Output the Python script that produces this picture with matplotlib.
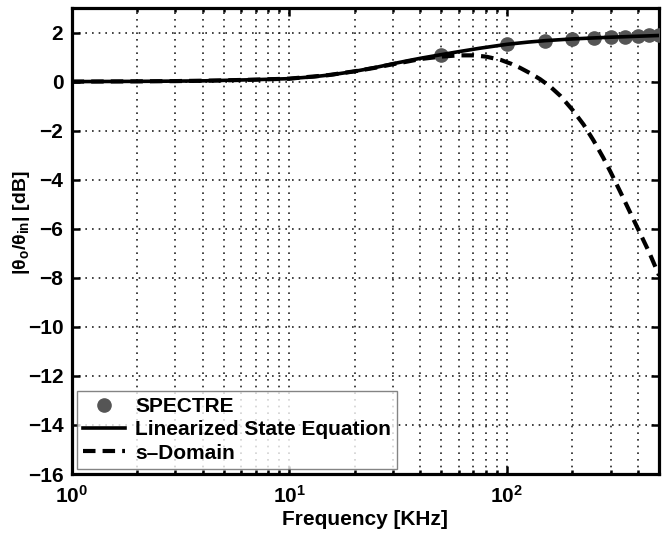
import matplotlib
matplotlib.use("Agg")
import matplotlib.pyplot as plt
import numpy as np

plt.rcParams["font.family"] = ["Liberation Sans", "DejaVu Sans"]
plt.rcParams["font.weight"] = "bold"
plt.rcParams["mathtext.fontset"] = "custom"
plt.rcParams["mathtext.rm"] = "Liberation Sans:bold"
plt.rcParams["mathtext.it"] = "Liberation Sans:bold"
plt.rcParams["mathtext.bf"] = "Liberation Sans:bold"
plt.rcParams["mathtext.default"] = "bf"

# SPECTRE simulation points
spectre_f = [50, 100, 150, 200, 250, 300, 350, 400, 450, 500]
spectre_db = [1.10, 1.54, 1.65, 1.72, 1.77, 1.80, 1.83, 1.86, 1.88, 1.89]

# linearized state equation
lse_f = [1, 2, 3, 4, 5, 7, 10, 13, 16, 20, 25, 30, 35, 40, 50, 60, 75, 100,
         125, 150, 200, 250, 300, 400, 500]
lse_db = [0.0, 0.01, 0.02, 0.03, 0.05, 0.08, 0.12, 0.20, 0.29, 0.42, 0.58,
          0.73, 0.85, 0.95, 1.10, 1.22, 1.36, 1.52, 1.61, 1.67, 1.74, 1.78,
          1.81, 1.85, 1.88]

# s-domain model
sdom_f = [1, 2, 3, 5, 7, 10, 15, 20, 25, 30, 35, 40, 50, 60, 70, 80, 94, 105,
          115, 128, 142, 158, 176, 200, 225, 250, 277, 300, 330, 360, 400,
          450, 500]
sdom_db = [0.0, 0.01, 0.02, 0.05, 0.08, 0.12, 0.26, 0.42, 0.57, 0.71, 0.82,
           0.92, 1.02, 1.07, 1.07, 1.02, 0.88, 0.72, 0.56, 0.34, 0.10, -0.20,
           -0.58, -1.15, -1.75, -2.40, -3.10, -3.70, -4.45, -5.15, -6.00,
           -6.95, -7.90]

fig = plt.figure(figsize=(6.63, 5.35), dpi=100)
ax = fig.add_axes([0.108, 0.114, 0.886, 0.871])

ax.semilogx(spectre_f, spectre_db, "o", color="#555555", markersize=9.5,
            label="SPECTRE", zorder=3)
ax.semilogx(lse_f, lse_db, "-", color="black", lw=2.6,
            label="Linearized State Equation", zorder=4)
ax.semilogx(sdom_f, sdom_db, "--", color="black", lw=3, dashes=(3, 1.7),
            label="s\u2013Domain", zorder=4)

ax.set_xlim(1, 500)
ax.set_ylim(-16, 3)
ax.set_yticks(np.arange(-16, 3, 2))
ax.set_yticklabels([str(v).replace("-", "\u2212") for v in range(-16, 3, 2)])

grid_style = dict(linestyle=(0, (1, 3)), color="#222222", lw=1.2)
ax.grid(True, which="major", axis="y", **grid_style)
ax.grid(True, which="both", axis="x", **grid_style)
ax.tick_params(which="both", direction="in", top=True, right=True,
               labelsize=15, width=1.8)
ax.tick_params(which="major", length=6)
ax.tick_params(which="minor", length=3)
ax.tick_params(axis="x", which="both", pad=8)
ax.tick_params(axis="y", which="both", pad=6)
for lab in ax.get_xticklabels() + ax.get_yticklabels():
    lab.set_fontweight("bold")
for s in ax.spines.values():
    s.set_linewidth(2.3)

ax.set_xlabel("Frequency [KHz]", fontsize=15, fontweight="bold", labelpad=2)
ax.set_ylabel(r"$|\theta_o/\theta_{in}|$ [dB]", fontsize=14,
              fontweight="bold")
ax.yaxis.set_label_coords(-0.067, 0.54)

leg = ax.legend(loc="lower left", bbox_to_anchor=(0.009, 0.011),
                borderaxespad=0, fontsize=15, frameon=True, fancybox=False,
                edgecolor="#666666", handlelength=2.0, handletextpad=0.5,
                borderpad=0.3, labelspacing=0.2, markerscale=1.0)
leg.get_frame().set_linewidth(1.0)

fig.savefig("out.png", dpi=100)
